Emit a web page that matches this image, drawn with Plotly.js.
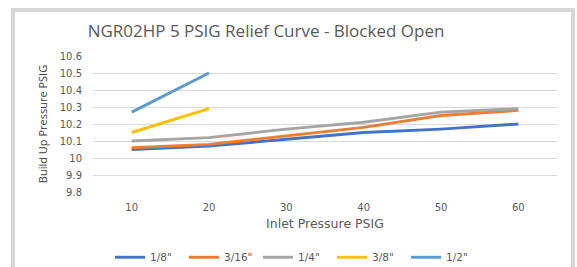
<!DOCTYPE html>
<html>
<head>
<meta charset="utf-8">
<script src="https://cdn.plot.ly/plotly-3.0.1.min.js"></script>
<style>
  html, body { margin: 0; padding: 0; background: #ffffff; }
  #wrap { position: relative; width: 577px; height: 267px; overflow: hidden; }
  #chart { position: absolute; left: 0; top: 0; width: 577px; height: 267px; }
  #frame { position: absolute; left: 11px; top: 8px; width: 564px; height: 270px;
           border-left: 4px solid #d6d6d6; border-top: 4px solid #d6d6d6; border-right: 4px solid #d6d6d6;
           box-sizing: border-box; pointer-events: none; }
</style>
</head>
<body>
<div id="wrap">
  <div id="chart"></div>
  <div id="frame"></div>
</div>
<script>
const categories = ["10", "20", "30", "40", "50", "60"];
const seriesNames = ["1/8\"", "3/16\"", "1/4\"", "3/8\"", "1/2\""];
const s_1_8  = [10.05, 10.07, 10.11, 10.15, 10.17, 10.20];
const s_3_16 = [10.06, 10.08, 10.13, 10.18, 10.25, 10.28];
const s_1_4  = [10.10, 10.12, 10.17, 10.21, 10.27, 10.29];
const s_3_8  = [10.15, 10.29];
const s_1_2  = [10.27, 10.50];
const yTicks = [9.8, 9.9, 10, 10.1, 10.2, 10.3, 10.4, 10.5, 10.6];
const yTickText = ["9.8", "9.9", "10", "10.1", "10.2", "10.3", "10.4", "10.5", "10.6"];
const colors = ["#4472C4", "#ED7D31", "#A5A5A5", "#FFC000", "#5B9BD5"];

const allSeries = [s_1_8, s_3_16, s_1_4, s_3_8, s_1_2];
const traces = allSeries.map((vals, i) => ({
  type: "scatter",
  mode: "lines",
  name: seriesNames[i],
  x: categories.slice(0, vals.length),
  y: vals,
  line: { color: colors[i], width: 2.9 },
  hoverinfo: "skip"
}));

const font = "'Open Sans', 'DejaVu Sans', sans-serif";
const wide = "'DejaVu Sans', 'Open Sans', sans-serif";
const layout = {
  width: 577, height: 267,
  margin: { l: 93, r: 20, t: 56, b: 74.5, pad: 0, autoexpand: false },
  paper_bgcolor: "#ffffff",
  plot_bgcolor: "#ffffff",
  font: { family: font, color: "#595959", size: 10 },
  title: {
    text: "NGR02HP 5 PSIG Relief Curve - Blocked Open",
    font: { family: font, size: 17, color: "#595959" },
    x: 266 / 577, xanchor: "center",
    y: 1 - 31 / 267, yanchor: "middle"
  },
  showlegend: true,
  legend: {
    orientation: "h",
    x: (110 - 93) / 464, xanchor: "left",
    y: -(258 - 192.5) / 136.5, yanchor: "middle",
    font: { family: wide, size: 10.5, color: "#595959" },
    itemwidth: 30,
    entrywidth: 29,
    entrywidthmode: "pixels",
    tracegroupgap: 0,
    bgcolor: "rgba(0,0,0,0)"
  },
  xaxis: {
    type: "category",
    categoryarray: categories,
    range: [-0.5, 5.5],
    showgrid: false,
    zeroline: false,
    showline: false,
    ticks: "",
    tickfont: { family: wide, size: 10, color: "#595959" },
    ticklabelstandoff: 8,
    title: { text: "Inlet Pressure PSIG", font: { family: wide, size: 12.5, color: "#595959" }, standoff: 7 }
  },
  yaxis: {
    range: [9.8, 10.6],
    tickvals: yTicks,
    ticktext: yTickText,
    showgrid: true,
    gridcolor: "#d9d9d9",
    gridwidth: 1,
    zeroline: false,
    showline: false,
    ticks: "",
    tickfont: { family: wide, size: 10, color: "#595959" },
    ticklabelstandoff: 10,
    title: { text: "Build Up Pressure PSIG", font: { family: font, size: 11, color: "#404040" }, standoff: 9 }
  }
};

Plotly.newPlot("chart", traces, layout, { displayModeBar: false, staticPlot: true });
</script>
</body>
</html>
